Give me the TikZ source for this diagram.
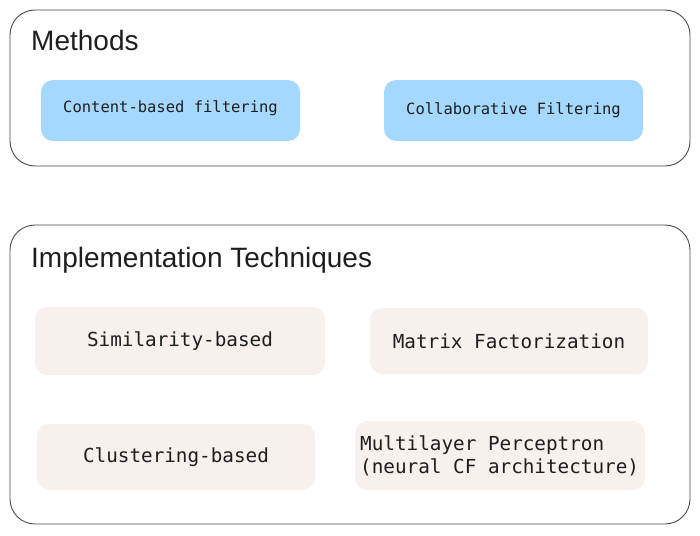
\documentclass[tikz,border=0pt]{standalone}
\usepackage{fontspec}
\setmainfont{Liberation Sans}
\newfontfamily\monof{DejaVu Sans Mono}
\definecolor{bluefill}{HTML}{A5D8FF}
\definecolor{beigefill}{HTML}{F8F0ED}
\definecolor{framec}{HTML}{4A4A4A}
\definecolor{textc}{HTML}{1E1E1E}
\begin{document}
\begin{tikzpicture}[x=1pt,y=-1pt,
  groupbox/.style={draw=framec,line width=0.9pt,rounded corners=25pt},
  methodbox/.style={fill=bluefill,rounded corners=12pt,text=textc,font=\monof\fontsize{15.5}{18}\selectfont},
  techbox/.style={fill=beigefill,rounded corners=12pt,text=textc,font=\monof\fontsize{19.3}{23}\selectfont},
  grouptitle/.style={anchor=west,text=textc,font=\fontsize{28}{32}\selectfont,inner sep=0pt}]
\useasboundingbox (0,0) rectangle (700,535);
\draw[groupbox] (10,10) rectangle (690,166);
\draw[groupbox] (10,225) rectangle (690,524);
\node[grouptitle] (mt) at (31,40) {Methods};
\node[grouptitle] (it) at (31,260) {Implementation Techniques};
\path[methodbox] (41,80) rectangle (300,141);
\node[methodbox,fill=none] (cbf) at (170.5,108) {Content-based filtering};
\path[methodbox] (384,80) rectangle (643,141);
\node[methodbox,fill=none] (cf) at (513.5,110) {Collaborative Filtering};
\path[techbox] (35,307) rectangle (325,375);
\node[techbox,fill=none] (sim) at (180,341) {Similarity-based};
\path[techbox] (370,308) rectangle (648,374);
\node[techbox,fill=none] (mf) at (509,341) {Matrix Factorization};
\path[techbox] (37,424) rectangle (315,490);
\node[techbox,fill=none] (clu) at (176,457) {Clustering-based};
\path[techbox] (355,421) rectangle (645,490);
\node[techbox,fill=none,align=left,anchor=west,inner sep=0pt] (mlp) at (360,456) {Multilayer Perceptron\\(neural CF architecture)};
\end{tikzpicture}
\end{document}
